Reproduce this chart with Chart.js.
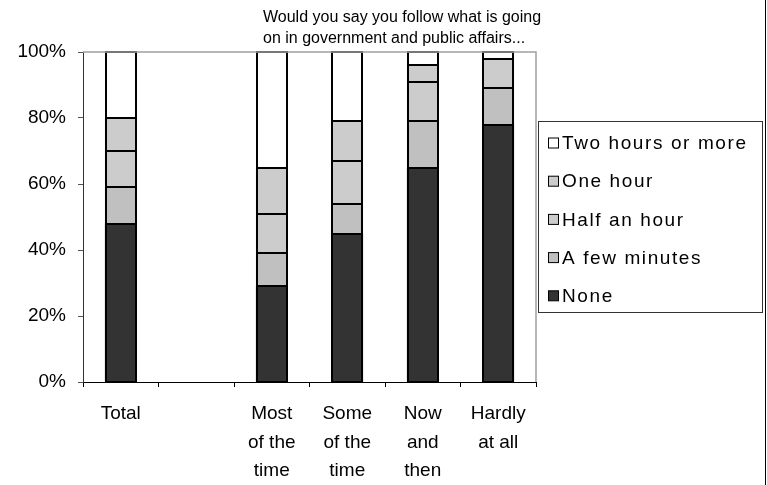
<!DOCTYPE html>
<html>
<head>
<meta charset="utf-8">
<script src="https://cdn.jsdelivr.net/npm/chart.js@4/dist/chart.umd.min.js"></script>
<style>
  html, body { margin: 0; padding: 0; background: #fff; }
  #wrap { position: relative; width: 767px; height: 485px; }
  canvas { display: block; }
</style>
</head>
<body>
<div id="wrap"><canvas id="c" width="767" height="485"></canvas></div>
<script>
// Categories (multi-line labels) and the stacked answer shares, in percent
const categories = [
  'Total',
  '',
  ['Most', 'of the', 'time'],
  ['Some', 'of the', 'time'],
  ['Now', 'and', 'then'],
  ['Hardly', 'at all']
];
const noneValues        = [48, null, 29, 45, 65, 78];
const fewMinutesValues  = [11, null, 10,  9, 14, 11];
const halfHourValues    = [11, null, 12, 13, 12,  9];
const oneHourValues     = [10, null, 14, 12,  5,  0];
const twoHoursValues    = [20, null, 35, 21,  4,  2];
const seriesNames = ['None', 'A few minutes', 'Half an hour', 'One hour', 'Two hours or more'];
const yTicks = [0, 20, 40, 60, 80, 100];
const titleLines = ['Would you say you follow what is going', 'on in government and public affairs...'];

const FONT = '"Liberation Sans", Arial, sans-serif';
const fills = ['#333333', '#c0c0c0', '#cccccc', '#cccccc', '#ffffff'];
const seriesData = [noneValues, fewMinutesValues, halfHourValues, oneHourValues, twoHoursValues];

const datasets = seriesData.map((d, i) => ({
  label: seriesNames[i],
  data: d,
  backgroundColor: fills[i],
  borderWidth: 0,
  categoryPercentage: 1,
  barPercentage: 0.42
}));

// Crisp black outlines around every bar segment, taken from the bar elements
const segmentOutlines = {
  id: 'segmentOutlines',
  afterDatasetsDraw(chart) {
    const ctx = chart.ctx;
    ctx.save();
    ctx.strokeStyle = '#000';
    ctx.lineWidth = 2;
    chart.data.datasets.forEach((ds, di) => {
      chart.getDatasetMeta(di).data.forEach(bar => {
        const p = bar.getProps(['x', 'y', 'base', 'width'], true);
        if (p.y == null || isNaN(p.y) || Math.abs(p.base - p.y) < 0.5) return;
        const l = Math.round(p.x - p.width / 2) + 1;
        const r = Math.round(p.x + p.width / 2) - 1;
        const t = Math.round(Math.min(p.y, p.base));
        const b = Math.round(Math.max(p.y, p.base));
        ctx.strokeRect(l, t, r - l, b - t);
      });
    });
    ctx.restore();
  }
};

// Frame lines, heading and legend box
const decorations = {
  id: 'decorations',
  afterDraw(chart) {
    const ctx = chart.ctx;
    const a = chart.chartArea;
    ctx.save();
    // light frame on top and right of the plot
    ctx.strokeStyle = '#a0a0a0';
    ctx.lineWidth = 1.5;
    ctx.beginPath();
    ctx.moveTo(a.left, a.top);
    ctx.lineTo(a.right, a.top);
    ctx.lineTo(a.right, a.bottom);
    ctx.stroke();

    // outer edge line
    ctx.strokeStyle = '#000';
    ctx.lineWidth = 1;
    ctx.beginPath();
    ctx.moveTo(765.5, 0);
    ctx.lineTo(765.5, 485);
    ctx.stroke();

    // heading
    ctx.fillStyle = '#000';
    ctx.font = '16px ' + FONT;
    ctx.textAlign = 'left';
    ctx.textBaseline = 'alphabetic';
    titleLines.forEach((t, i) => ctx.fillText(t, 263, 21.5 + i * 21.5));

    // legend
    ctx.strokeStyle = '#333';
    ctx.lineWidth = 1;
    ctx.strokeRect(538.5, 121.5, 224, 191);
    const ds = chart.data.datasets.slice().reverse();
    ctx.font = '19px ' + FONT;
    ctx.textBaseline = 'middle';
    if ('letterSpacing' in ctx) ctx.letterSpacing = '1.6px';
    ds.forEach((d, i) => {
      const cy = 143 + i * 38.2;
      ctx.fillStyle = d.backgroundColor;
      ctx.fillRect(548.5, cy - 5, 10, 10);
      ctx.strokeStyle = '#000';
      ctx.strokeRect(548.5, cy - 5, 10, 10);
      ctx.fillStyle = '#000';
      ctx.fillText(d.label, 562, cy + 1);
    });
    ctx.restore();
  }
};

new Chart(document.getElementById('c'), {
  type: 'bar',
  data: { labels: categories, datasets },
  options: {
    responsive: false,
    devicePixelRatio: 1,
    animation: false,
    layout: { padding: { top: 52, right: 231, left: 0, bottom: 0 } },
    plugins: {
      legend: { display: false },
      title: { display: false },
      tooltip: { enabled: false }
    },
    scales: {
      x: {
        stacked: true,
        afterFit(s) { s.height = 103; },
        grid: {
          offset: true,
          drawOnChartArea: false,
          drawTicks: true,
          tickLength: 5,
          color: '#000'
        },
        border: { display: true, color: '#000', width: 1 },
        ticks: {
          color: '#000',
          font: { family: FONT, size: 19, lineHeight: 1.5 },
          padding: 13,
          maxRotation: 0,
          autoSkip: false
        }
      },
      y: {
        stacked: true,
        min: 0,
        max: 100,
        afterFit(s) { s.width = 83; },
        afterBuildTicks(s) { s.ticks = yTicks.map(v => ({ value: v })); },
        grid: {
          drawOnChartArea: false,
          drawTicks: true,
          tickLength: 5,
          color: '#555'
        },
        border: { display: true, color: '#333', width: 1 },
        ticks: {
          color: '#000',
          font: { family: FONT, size: 19 },
          padding: 12,
          callback: v => v + '%'
        }
      }
    }
  },
  plugins: [segmentOutlines, decorations]
});
</script>
</body>
</html>
